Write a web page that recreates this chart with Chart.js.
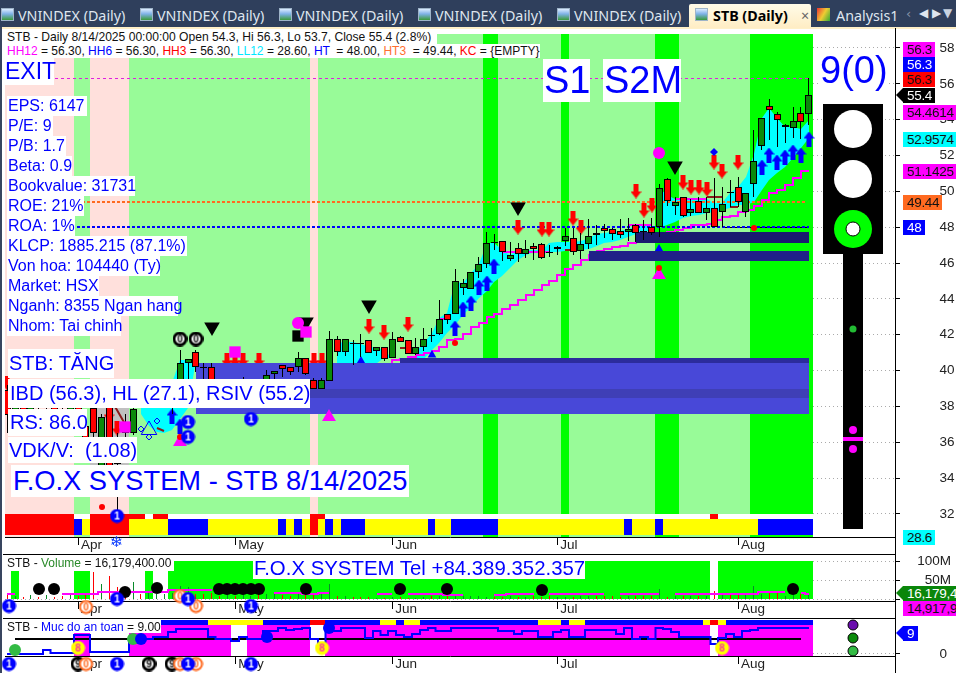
<!DOCTYPE html>
<html>
<head>
<meta charset="utf-8">
<title>STB (Daily)</title>
<script src="https://cdn.jsdelivr.net/npm/chart.js@4/dist/chart.umd.min.js"></script>
<style>
  html, body { margin: 0; padding: 0; background: #fff; }
  body { position: relative; width: 956px; height: 673px; overflow: hidden; font-family: "Liberation Sans", Arial, sans-serif; }
  canvas { position: absolute; left: 0; }
  .abs { position: absolute; white-space: pre; }
  .box { position: absolute; white-space: pre; background: #fff; color: #0000ff; }
  .rule { position: absolute; background: #000; }
  .tab { position: absolute; top: 7px; color: #dfe6ef; font: 14.3px "Noto Sans", sans-serif; line-height: 18px; white-space: pre; }
  .icon { position: absolute; top: 8px; width: 13px; height: 13px; background: linear-gradient(#dcecff 0, #7fb2e8 45%, #3a9a3a 100%); border: 1px solid #9fb4c8; box-sizing: border-box; }
  .tag { position: absolute; left: 903px; height: 15px; line-height: 15px; font-size: 13.5px; letter-spacing: -0.3px; padding-left: 4px; box-sizing: border-box; white-space: pre; overflow: hidden; }
  .tip { position: absolute; left: 896px; width: 0; height: 0; border-top: 7.5px solid transparent; border-bottom: 7.5px solid transparent; }
  #tabs { position: absolute; left: 0; top: 0; width: 956px; height: 27px; background: #2f3f5c; }
  #stripe { position: absolute; left: 0; top: 27px; width: 956px; height: 2px; background: #fff0c8; }
  #active { position: absolute; left: 689px; top: 4px; width: 122px; height: 24px; background: linear-gradient(#fffbe8, #ffedc4); border-radius: 2px 2px 0 0; }
</style>
</head>
<body>
<div id="tabs"></div><div id="stripe"></div><div id="active"></div>
<canvas id="priceChart" width="956" height="526" style="top:28px"></canvas>
<canvas id="volumeChart" width="956" height="64" style="top:554px"></canvas>
<canvas id="safetyChart" width="956" height="55" style="top:618px"></canvas>
<div id="overlay"></div>

<script>
// bar 0 = first visible day, bar 102 = 8/14/2025
const opens  = [38.9,37.5,38.2,37.6,38.3,37.9,38.2,37.7,37.2,38,36.9,37.9,34.7,38.5,36,36.9,36.5,39.1,38.45,38.6,38.9,39,39.47,40.4,41.02,40.18,40.18,39.3,38.7,39.2,38.6,39.1,39.3,39.47,39.79,40.29,40.18,40.18,40.68,39.47,38.95,39.43,41.75,41.06,41.53,41.53,41.69,41.11,41.3,40.68,41.86,41.69,40.95,41.3,41.96,42.06,43.14,43.18,44.63,44.57,45.52,45.95,47.17,47.25,46.2,46.82,46.49,46.97,47.04,46.63,46.76,47.25,47.38,46.67,47.04,47.65,47.97,47.88,47.8,47.71,48.14,47.78,47.99,47.99,50.67,49.18,49.67,48.77,49.44,48.77,49.05,48.83,49.96,50.26,48.85,50.41,52.55,54.74,54.34,53.57,53.55,54.35,54.3];
const highs  = [39.2,38.9,38.6,38.6,38.8,38.5,38.6,38,38.4,38.4,37.4,38.1,37.6,38.8,36.5,37.6,38.5,39.3,39.2,39.2,39.3,39.4,41.15,40.63,41.15,40.4,40.4,39.4,39.4,39.4,39.65,39.4,39.45,40.03,39.96,40.29,40.18,41.02,40.7,39.6,39.6,42.2,41.93,41.75,41.7,42.04,41.69,41.3,41.3,42.15,41.93,41.69,41.8,42.36,42.36,43.94,43.14,45.67,45.09,45.48,46.36,47.75,47.6,47.25,47.2,47.1,47.28,47.1,47.1,47,46.95,47.97,47.97,47.66,48.44,48.1,48.2,47.95,48.44,48.5,48.2,48.4,48.5,50.41,50.75,49.7,49.7,49.59,49.7,49.7,50.73,50.26,50.63,50.82,49.93,53.42,54.08,55.14,54.43,53.76,54.7,54.7,56.3];
const lows   = [36.5,37.2,37.2,37.2,37.6,37.5,37.3,37,36.9,36.5,35.5,36.3,34.5,34.5,32.2,36.2,36.4,38.6,38,38.2,38.5,37.6,38.6,39.47,39.94,39.47,39.3,38.4,38.5,38.4,38.4,38.6,38.7,39.2,39.4,39.66,39.75,39.94,39.75,38.95,38.95,39.43,40.8,40.8,40.3,40.78,41,40.8,40.54,40.68,41.58,40.95,40.87,41.1,41.6,41.99,42.6,43.18,44.22,44.57,45.15,45.7,46.7,46.13,46.1,46.08,46.3,46.17,46.25,46.35,46.45,46.95,46.45,46.2,46.8,47,47.4,47.28,47.38,47.25,47.2,47.3,47.55,47.43,49.18,48.68,48.55,48.6,48.77,48.4,47.99,48.03,49.15,49.15,48.59,49.67,52.3,52.87,52.5,52.72,53,52.9,53.7];
const closes = [37.5,38.2,37.6,38.3,37.9,38.2,37.7,37.2,38,36.9,35.8,36.5,37.43,34.7,34.8,36.5,37.84,38.8,39,39,39.2,39.3,40.4,40.63,40.18,40.12,39.47,38.7,39.2,38.6,39.1,39.3,38.9,39.73,39.96,40.07,39.94,40.68,39.79,38.95,39.47,41.75,41.06,41.75,41.47,41.47,41,41.3,40.67,41.75,41.58,40.95,41.3,41.75,41.9,42.86,42.8,44.98,44.87,45.48,45.95,47.14,47.11,46.6,46.43,46.49,46.76,46.76,46.3,46.57,46.9,47.53,46.6,47.04,47.53,47.59,47.8,47.6,47.56,47.92,47.66,47.72,47.66,50.17,49.44,49.42,48.64,49,48.77,49.05,47.99,49.28,49.9,49.39,49.93,51.68,54.08,54.56,53.96,53.68,53.95,53.85,55.4];
const volumes = [14,10,6,12,6,12,6,10,12,10,15,72,39,60,32,28,45,14,18,14,14,18,36,32,15,14,18,10,12,8,11,8,14,14,18,12,10,14,16,14,18,40,10,8,6,6,6,4,4,6,6,4,5,6,8,9,8,10,8,9,8,6,7,6,8,7,7,8,6,10,7,6,7,10,10,8,9,8,6,8,8,8,8,28,6,8,10,9,8,10,23,12,12,14,15,35,15,17,17,8,12,13,16.18];
const volumeAvg = [15,15,null,14,null,14,null,13,14,14,15,15,19,19,19,19,19,19,19,19,19,25,25,25,25,25,25,null,null,null,null,null,null,null,18,18,16,16,15,15,17,17,null,null,null,null,null,14,14,14,null,13,13,13,15,15,12,12,12,null,null,null,12,12,14,14,14,14,null,14,14,14,14,14,14,13,13,null,13,14,14,13,13,13,null,15,15,15,15,15,15,15,15,15,15,15,19,19,19,19,null,17,15];
const safety = [0.1,0.1,0.1,0.1,0.1,1.3,0.2,0.2,0.2,6.45,6.45,0.7,0.7,0.7,0.7,0.7,5.07,5.07,5.07,5.86,5.86,7.6,8.7,8.7,8.7,8.7,5.9,5.07,5.07,4.6,5.9,5.28,5.28,7.83,7.83,8.97,8.17,8.5,8.97,5.07,3.9,7.83,7.83,8.97,8.97,8.97,5.5,7.8,6.55,7.8,6.55,5.86,7,8.17,8.97,7.83,7.83,8.97,8.97,8.97,8.97,8.97,8.97,7.83,7.83,7,7.83,7.83,5.86,5.86,7.6,8.17,5.86,5.86,8.17,8.17,8.17,8.17,7,8.97,5.28,5.86,5.28,8.97,8.5,7.6,5.86,5.86,5.86,5.86,3.55,5.5,7,5.86,7.83,8.17,8.97,8.97,8.97,8.97,8.97,8.97,9];

// nen mau theo bar: [loai, so bar]
const bgRuns = [["pink",9],["light",2],["pink",5],["light",23],["pink",1],["light",21],["bright",2],["light",8],["bright",1],["light",11],["bright",3],["light",9],["bright",8]];
const ribbonLow = [["red",9],["blue",1],["yellow",1],["red",5],["yellow",5],["blue",5],["yellow",9],["blue",1],["yellow",1],["blue",1],["yellow",1],["red",1],["yellow",1],["blue",1],["yellow",1],["blue",3],["yellow",8],["blue",1],["yellow",2],["blue",6],["yellow",16],["blue",1],["yellow",3],["blue",1],["yellow",12],["blue",7]];
const ribbonHigh = [["red",9],["white",2],["red",7],["white",1],["red",2],["white",18],["red",2],["white",49],["red",1],["white",12]];
const volumeBg = [["white",1],["bright",1],["white",7],["bright",2],["white",7],["bright",1],["white",2],["bright",69],["white",1],["bright",12]];
const safetyBg = [["white",9],["magenta",2],["white",5],["magenta",13],["white",2],["magenta",8],["white",2],["magenta",49],["white",1],["magenta",12]];
const safetyRibbon = [["white",20],["blue",6],["yellow",7],["blue",6],["red",2],["blue",7],["yellow",2],["blue",1],["yellow",2],["blue",15],["yellow",3],["blue",1],["yellow",2],["blue",15],["yellow",1],["red",1],["yellow",1],["blue",11]];

// day ban cyan va duong nac thang
const cyanBars  = [17,18,19,20,21,22,23,24,null,42,43,44,45,46,47,48,49,null,52,53,54,55,56,57,58,59,60,61,62,63,64,65,66,67,68,69,70,71,72,73,74,75,76,77,78,79,80,81,82,null,83,84,85,86,87,88,89,90,91,92,93,94,95,96,97,98,99,100,101,102];
const cyanTop   = [38.6,39,39,39.2,39.3,40.6,40.6,40.6,null,41.52,41.61,41.61,41.48,41.34,41.24,41.15,40.7,null,41.06,41.52,42.08,42.92,43.2,44.96,44.87,45.47,45.95,47.14,47.14,46.73,46.45,46.73,46.73,46.73,46.73,47.1,47.19,47.2,47.2,47.25,47.4,47.6,47.7,47.75,47.8,47.9,48,48.1,48.2,null,50.17,49.8,49.6,49.6,49.6,49.6,49.6,49.33,49.33,49.9,50.26,50.82,52.1,54.07,54.63,54.07,53.6,53.6,53.5,54];
const cyanLow   = [37.6,36.9,36.55,36.5,36.7,37.3,37.9,40.6,null,40.41,40.41,40.41,40.41,40.41,40.41,40.68,40.7,null,40.55,40.63,41.15,41.52,42.08,42.54,43.1,43.57,44.03,44.46,44.96,45.28,45.7,46.17,46.45,46.64,46.64,46.6,46.63,46.65,46.65,46.7,46.8,46.95,47.1,47.2,47.3,47.45,47.6,47.7,47.9,null,47.93,48.12,48.3,48.5,48.6,48.68,48.77,48.86,48.96,49.05,49.24,49.24,49.42,50.07,50.63,51,51.38,51.84,52.4,52.96];
const stepBars  = [49,50,51,52,53,54,55,56,57,58,59,60,61,62,63,64,65,66,67,68,69,70,71,72,73,74,75,76,77,78,79,80,81,82,83,84,85,86,87,88,89,90,91,92,93,94,95,96,97,98,99,100,101,102];
const stepLine  = [40.44,40.59,40.62,40.78,40.87,40.96,41.09,41.3,41.71,41.74,42.04,42.41,42.67,42.97,43.16,43.46,43.68,43.94,44.22,44.5,44.78,45.02,45.33,45.65,45.89,46.17,46.45,46.67,46.78,46.9,46.97,47.1,47.25,47.35,47.5,47.6,47.75,47.84,47.95,48.12,48.12,48.2,48.4,48.58,48.65,48.86,48.96,49.2,49.5,49.88,50.1,50.35,50.72,51.14];
const upperBars = [55,56,null,63,64,65,66,67,68,69,null,79,80,81,82,null,85,86,87,88,89];
const upperLine = [42.9,42.9,null,46.64,46.64,46.64,46.64,46.64,46.64,46.64,null,48.12,48.12,48.12,48.12,null,49.6,49.6,49.6,49.6,49.6];
const brownBars = [13,14,15,null,19,20,null,50,51,52,null,71,72,null,89,90,91,null,92,93];
const brownLine = [38.5,37.8,37,null,36.78,36.65,null,41.24,41.24,41.24,null,46.73,46.73,null,49.7,49.7,49.7,null,49.14,49.14];

// vung ho tro: tu bar, den bar, gia
const zoneFrom = [24,50,24,74,80];
const zoneTo   = [102,102,102,102,102];
const zoneLow  = [37.58,40.42,38.47,46.11,47.12];
const zoneHigh = [40.42,40.7,38.97,46.67,47.73];

// muc gia
const levelExit = 56.3, levelHt3 = 49.41, levelHt = 48;

// dau hieu tren gia
const sellBars  = [0,13,14,28,29,30,32,39,40,46,48,51,65,68,69,72,73,80,81,82,86,87,88,89,90,91,93];
const sellPrice = [39.29,37.6,36.78,40.6,40.6,40.6,40.6,40.6,40.6,42.5,42.14,42.58,47.99,47.88,47.88,48.49,47.99,50.02,48.96,49.24,50.5,50.26,50.26,50.13,51.62,51.12,51.62];
const buyBars   = [21,22,57,58,59,60,61,62,96,97,98,99,100,101,102];
const buyPrice  = [37.46,36.9,42.4,43.42,43.75,44.68,44.87,45.86,51.38,52.03,51.66,51.94,52.18,52.03,52.9];
const peakBars  = [26,38,46,65,85];
const peakPrice = [42.43,42.7,43.66,49.13,51.43];
const baseBars  = [22,41,83];
const basePrice = [36,37.4,45.33];
const ringBars  = [37,83];
const ringPrice = [42.65,52.13];
const squareBars  = [15,29,38];
const squarePrice = [36.85,41.04,42.15];
const blackSqBars  = [37];
const blackSqPrice = [41.93];
const redDotBars  = [12,22,57,83,95];
const redDotPrice = [32.4,36.3,41.55,45.7,47.94];
const blueDotBars  = [90];
const blueDotPrice = [52.2];
const smallTriBars  = [45,54,83];
const smallTriPrice = [40.55,40.85,46.8];
const oneBars  = [14,23,23,31];
const onePrice = [31.9,37.1,36.3,37.3];
const zeroBars  = [22,24];
const zeroPrice = [41.76,41.76];

// den giao thong (dat ngoai vung bar)
const lightBar = 107.63;
const lightBody = [46.5,54.875];
const lightPole = [31.16,46.5];
const lightDash = [36.07,36.3];
const lightLamps = [53.48,50.69];
const lightGreen = [47.9];
const lightCenter = [47.9];

// volume + muc do an toan
const volDotBars = [4,6,15,19,27,28,29,30,31,32,38,50,56,68,100];
const volDotVal  = [26,26,20,30,27,26,26,26,27,28,27,27,27,25,27];
const volOneBars = [0.2,14,23,31];
const volOneVal  = [-17,2,1,-17];
const volZeroBars = [10,22,24];
const volZeroVal  = [-20,8,-17];
const safeBigBlueBars = [17,33,41];
const safeBigBlueVal  = [5,5.9,8.97];
const safeLimeBars = [1,16];
const safeLimeVal  = [1.4,5.3];
const safeEightBars = [9,40,91];
const safeEightVal  = [2.2,2.1,2.1];
const safeOneBars = [0.2,14,23,31];
const safeNineBars = [9,18,21];
const safeZeroBars = [10,22,24];
const safeBelow = -3.4;
const safeLevel = 5.3;
const safeLamps = [10,5.52,1.03];

const priceTicks = [32,34,36,38,40,42,44,46,48,50,52,54,56,58];
const volumeTicks = [0,50e6,100e6];
const volumeTickLabels = ["","50M","100M"];
const monthBars = [9,29,49,70,93];
const monthNames = ["Apr","May","Jun","Jul","Aug"];

const infoRows = ["EPS: 6147","P/E: 9","P/B: 1.7","Beta: 0.9","Bookvalue: 31731","ROE: 21%","ROA: 1%","KLCP: 1885.215 (87.1%)","Von hoa: 104440 (Ty)","Market: HSX","Nganh: 8355 Ngan hang","Nhom: Tai chinh"];

const COLORS = {
  pink: "#ffe0dc", light: "#98fb98", bright: "#00ff00", red: "#ff0000", blue: "#0000ff",
  yellow: "#ffff00", white: "#ffffff", magenta: "#ff00ff"
};
const LAST_BAR = 102;

Chart.defaults.font.family = '"Liberation Sans", Arial, sans-serif';
Chart.defaults.font.size = 13.5;
Chart.defaults.color = "#222";
Chart.defaults.animation = false;

const allBars = opens.map((_, i) => i);
const expandRuns = runs => runs.flatMap(([k, n]) => Array(n).fill(COLORS[k]));
const pairs = (xs, ys) => xs.map((x, k) => ({ x: x === null ? NaN : x, y: ys[k] }));

// icons de ve diem
function sprite(w, h, draw) {
  const c = document.createElement("canvas");
  c.width = w; c.height = h;
  draw(c.getContext("2d"), w, h);
  return c;
}
function arrow(color, up) {
  return sprite(11, 15, (g, w, h) => {
    if (!up) { g.translate(0, h); g.scale(1, -1); }
    g.fillStyle = color;
    g.beginPath();
    g.moveTo(5.5, 0); g.lineTo(11, 7); g.lineTo(8, 7); g.lineTo(8, 15);
    g.lineTo(3, 15); g.lineTo(3, 7); g.lineTo(0, 7);
    g.closePath(); g.fill();
  });
}
function badge(label, fill, ring, ink, ringWidth) {
  return sprite(15, 15, g => {
    g.beginPath(); g.arc(7.5, 7.5, 6, 0, Math.PI * 2);
    g.fillStyle = fill; g.fill();
    g.lineWidth = ringWidth || 2; g.strokeStyle = ring; g.stroke();
    g.fillStyle = ink;
    g.font = 'bold 10px "Liberation Sans"';
    g.textAlign = "center"; g.textBaseline = "middle";
    g.fillText(label, 7.5, 8);
  });
}
const redArrow = arrow("#ff0000", false);
const blueArrow = arrow("#0000ff", true);
const badgeOne = badge("1", "#0000ff", "#0000ff", "#ffffff");
const badgeZero = badge("0", "#ffffff", "#ff6a20", "#ff6a20");
const badgeBlackZero = badge("0", "#ffffff", "#000000", "#000000", 3);
const badgeNine = badge("9", "#ffffff", "#000000", "#000000", 3);
const badgeEight = badge("8", "#ffff00", "#ffff00", "#ff2fa0");

// helpers dataset
const bars = (data, color, thick, extra) => ({
  type: "bar", data, backgroundColor: color, barThickness: thick, grouped: false,
  borderWidth: 0, inflateAmount: 0, ...extra
});
const line = (data, color, width, extra) => ({
  type: "line", data, borderColor: color, borderWidth: width, pointRadius: 0,
  fill: false, tension: 0, spanGaps: false, ...extra
});
const marks = (xs, ys, style, radius, color, extra) => ({
  type: "line", showLine: false, data: pairs(xs, ys), pointStyle: style, pointRadius: radius,
  pointBackgroundColor: color, pointBorderColor: color, pointBorderWidth: 0, ...extra
});
const spriteMarks = (xs, ys, img, extra) => marks(xs, ys, img, 10, "#000", { clip: false, ...extra });
const flat = (from, to, y) => [{ x: from, y }, { x: to, y }];

// dat order theo thu tu ve: phan tu sau nam tren
const painted = list => list.map((d, i) => ({ ...d, order: list.length - i }));

function span(xs, low, high) { return xs.map(x => ({ x, y: [low, high] })); }

const snapPixels = {
  id: "snapPixels",
  beforeDatasetsDraw(chart) {
    chart.getSortedVisibleDatasetMetas().forEach(meta => {
      const ds = chart.data.datasets[meta.index];
      if (meta.type === "bar") {
        meta.data.forEach(b => {
          b.x = b.width % 2 ? Math.floor(b.x) + 0.5 : Math.round(b.x);
          b.y = Math.round(b.y);
          b.base = Math.round(b.base);
        });
      } else {
        const odd = (ds.borderWidth || 0) % 2 === 1;
        meta.data.forEach(p => {
          if (ds.showLine === false) { p.x = Math.round(p.x); p.y = Math.round(p.y); return; }
          p.y = odd ? Math.floor(p.y) + 0.5 : Math.round(p.y);
          p.x = Math.round(p.x);
        });
      }
    });
  }
};

function baseOptions(min, max, yTicks, yLabel, yTickOpts, rightGap) {
  const gap = rightGap || 0;
  return {
    responsive: false,
    animation: false,
    layout: { autoPadding: false, padding: { left: 5, top: 0, right: gap, bottom: 0 } },
    plugins: { legend: { display: false }, tooltip: { enabled: false } },
    events: [],
    scales: {
      x: {
        type: "linear", offset: false,
        min: (5 - 7.3) / 7.857, max: (895 - 7.3) / 7.857,
        // chieu cao co dinh, bo padding de vung ve dung pixel
        afterFit: s => { s.height = 17; s.paddingLeft = 0; s.paddingRight = 0; s.paddingTop = 0; s.paddingBottom = 0; },
        afterBuildTicks: s => { s.ticks = monthBars.map(value => ({ value })); },
        grid: { offset: false, drawOnChartArea: false, tickLength: 8, tickColor: "#000" },
        border: { color: "#000", width: 1 },
        ticks: {
          autoSkip: false, maxRotation: 0, align: "start", labelOffset: 3, padding: -8,
          callback: v => monthNames[monthBars.indexOf(v)]
        }
      },
      y: {
        type: "linear", position: "right", min, max,
        afterFit: s => { s.width = 61 - gap; s.paddingTop = 0; s.paddingBottom = 0; s.paddingLeft = 0; s.paddingRight = 0; },
        afterBuildTicks: s => { s.ticks = yTicks.map(value => ({ value })); },
        grid: { color: "#aaaaaa", tickColor: "#000", tickLength: 5, lineWidth: 1 },
        border: { color: "#000", width: 1, dash: [1, 3] },
        ticks: { autoSkip: false, callback: yLabel, ...yTickOpts }
      }
    }
  };
}

// --- gia ---
const priceMin = 30.71, priceMax = 59.116;
const bodyColor = allBars.map(i => {
  if (Math.abs(opens[i] - closes[i]) < 0.1) return "#000000";
  return closes[i] > opens[i] ? "#0a8a0a" : "#ff0000";
});
const bgData = span(allBars, priceMin, 58.78);
const greyBars = [11,12,13,14,15];

let priceSets = [
  bars(bgData, expandRuns(bgRuns), 8),
  bars(span(greyBars, 34.67, 38), "#c0c0c0", 8),
  line(pairs(cyanBars, cyanLow), "rgba(0,0,0,0)", 0)
];
const cyanIndex = priceSets.length - 1;
priceSets = priceSets.concat([
  line(pairs(cyanBars, cyanTop), "rgba(0,0,0,0)", 0, { fill: { target: cyanIndex }, backgroundColor: "#00ffff" }),
  line(pairs(upperBars, upperLine), "#ff00ff", 2),
  line(pairs(stepBars, stepLine), "#ff00ff", 2, { stepped: "after" }),
  line(flat(0, LAST_BAR, levelExit), "#e020e0", 1, { borderDash: [3, 3] }),
  line(flat(0, 101.5, levelHt3), "#ff6a20", 2, { borderDash: [3, 2] }),
  line(flat(91, LAST_BAR, levelHt), "#000000", 1),
  line(flat(0, LAST_BAR, levelHt), "#0000ff", 2, { borderDash: [3, 2] }),
  marks(sellBars, sellPrice, redArrow, 10, "#f00"),
  marks(buyBars, buyPrice, blueArrow, 10, "#00f"),
  marks(smallTriBars, smallTriPrice, "triangle", 5, "#0000ff")
]);

// cac vung xanh phu len mui ten
const zoneColors = ["#4848d8", "#2c2c9c", "#3f3fb6", "#202088", "#1a1a70"];
zoneFrom.forEach((from, k) => {
  const lowIdx = priceSets.length;
  priceSets.push(line(flat(from, zoneTo[k], zoneLow[k]), "rgba(0,0,0,0)", 0));
  priceSets.push(line(flat(from, zoneTo[k], zoneHigh[k]), "rgba(0,0,0,0)", 0, { fill: { target: lowIdx }, backgroundColor: zoneColors[k] }));
});

priceSets = priceSets.concat([
  line(pairs(brownBars, brownLine), "#8b1a1a", 2),
  bars(allBars.map(i => ({ x: i, y: [lows[i], highs[i]] })), "#000000", 1),
  bars(allBars.map(i => ({ x: i, y: [opens[i], closes[i]] })), bodyColor, 7, { borderWidth: 1, borderColor: "#000000", borderSkipped: false }),
  marks(peakBars, peakPrice, "triangle", 9, "#000000", { pointRotation: 180 }),
  marks(baseBars, basePrice, "triangle", 8, "#ff00ff"),
  marks(ringBars, ringPrice, "circle", 6, "#ff00ff"),
  marks(blackSqBars, blackSqPrice, "rect", 8, "#000000"),
  marks(squareBars, squarePrice, "rect", 8, "#ff00ff"),
  marks(redDotBars, redDotPrice, "circle", 3, "#ff0000"),
  marks(blueDotBars, blueDotPrice, "rectRot", 4, "#0000ff"),
  marks([18], [36.68], "triangle", 9, "rgba(0,0,0,0)", { pointBorderColor: "#0000ff", pointBorderWidth: 1 }),
  marks([17,18,19], [36.74,36.29,37.19], "rectRot", 3, "rgba(0,0,0,0)", { pointBorderColor: "#0000ff", pointBorderWidth: 1 }),
  marks(zeroBars, zeroPrice, badgeBlackZero, 10, "#000"),
  bars(span(allBars, 30.83, 32), "#ffffff", 8),
  bars(span(allBars, 31.72, 32), expandRuns(ribbonHigh), 8),
  bars(span(allBars, 30.83, 31.72), expandRuns(ribbonLow), 8),
  spriteMarks(oneBars, onePrice, badgeOne),
  bars([{ x: lightBar, y: lightBody }], "#000000", 60),
  bars([{ x: lightBar, y: lightPole }], "#000000", 20),
  marks([lightBar, lightBar], lightLamps, "circle", 19, "#ffffff"),
  marks([lightBar], lightGreen, "circle", 19, "#00ff00"),
  marks([lightBar], lightCenter, "circle", 7, "#ffffff", { pointBorderColor: "#000000", pointBorderWidth: 1 }),
  marks([lightBar], [42.32], "circle", 3.5, "#22bb33"),
  marks([lightBar, lightBar], [36.68, 35.62], "circle", 4, "#ff00ff"),
  bars([{ x: lightBar, y: lightDash }], "#ff00ff", 20)
]);

new Chart(document.getElementById("priceChart"), {
  type: "line",
  data: { datasets: painted(priceSets) },
  options: baseOptions(priceMin, priceMax, priceTicks, v => String(v), { padding: 39.5, crossAlign: "near" }),
  plugins: [snapPixels]
});

// --- volume ---
const volBarColor = allBars.map(i => closes[i] >= opens[i] ? "#0a8a2a" : "#ff0000");
new Chart(document.getElementById("volumeChart"), {
  type: "line",
  data: { datasets: painted([
    bars(span(allBars, 0, 100e6), expandRuns(volumeBg), 8),
    bars(allBars.map(i => ({ x: i, y: [0, volumes[i] * 1e6] })), volBarColor, 1),
    line(pairs(allBars, volumeAvg.map(v => v === null ? null : v * 1e6)), "#ff00ff", 2, { stepped: "middle" }),
    marks(volDotBars, volDotVal.map(v => v * 1e6), "circle", 6, "#000000"),
    spriteMarks(volZeroBars, volZeroVal.map(v => v * 1e6), badgeZero),
    spriteMarks(volOneBars, volOneVal.map(v => v * 1e6), badgeOne)
  ]) },
  options: baseOptions(-3.9e6, 118.2e6, volumeTicks, v => volumeTickLabels[volumeTicks.indexOf(v)], { padding: 16, crossAlign: "far" }, 5),
  plugins: [snapPixels]
});

// --- muc do an toan ---
new Chart(document.getElementById("safetyChart"), {
  type: "line",
  data: { datasets: painted([
    bars(span(allBars, -0.69, 10), expandRuns(safetyBg), 8),
    bars(span(allBars, 10, 11.72), expandRuns(safetyRibbon), 8),
    line(flat(1, 101, safeLevel), "#000000", 2),
    line(pairs(allBars, safety), "#0000ff", 2, { stepped: "middle" }),
    marks(safeLimeBars, safeLimeVal, "circle", 6, "#33bb44"),
    marks(safeBigBlueBars, safeBigBlueVal, "circle", 6, "#0000ff"),
    spriteMarks(safeEightBars, safeEightVal, badgeEight),
    spriteMarks(safeNineBars, safeNineBars.map(() => safeBelow), badgeNine),
    spriteMarks(safeZeroBars, safeZeroBars.map(() => safeBelow), badgeZero),
    spriteMarks(safeOneBars, safeOneBars.map(() => safeBelow), badgeOne),
    marks([lightBar], [safeLamps[0]], "circle", 5, "#6a0dad", { pointBorderColor: "#000", pointBorderWidth: 1 }),
    marks([lightBar], [safeLamps[1]], "circle", 5, "#0a8a0a", { pointBorderColor: "#000", pointBorderWidth: 1 }),
    marks([lightBar], [safeLamps[2]], "circle", 5, "#33bb44", { pointBorderColor: "#000", pointBorderWidth: 1 })
  ]) },
  options: baseOptions(-0.69, 12.41, [0], v => String(v), { padding: 39.5, crossAlign: "near" }),
  plugins: [snapPixels]
});

// --- chu va khung de len tren chart ---
const overlay = document.getElementById("overlay");
function add(cls, style, text) {
  const el = document.createElement("div");
  el.className = cls;
  el.style.cssText = style;
  if (text !== undefined) el.textContent = text;
  overlay.appendChild(el);
  return el;
}
function addBox(x, y, w, h, size, text, pad) {
  add("box", `left:${x}px;top:${y}px;width:${w}px;height:${h}px;line-height:${h}px;font-size:${size}px;padding-left:${pad || 1}px;box-sizing:border-box`, text);
}

// khung ke
add("rule", "left:895px;top:28px;width:1px;height:645px");
add("rule", "left:3px;top:554px;width:892px;height:1px");
add("rule", "left:3px;top:618px;width:892px;height:1px");
add("abs", "left:0;top:27px;width:2px;height:646px;background:#38455f");

// tab
[0,1,2,3,4].forEach(k => {
  add("icon", `left:${1 + 139 * k}px`);
  add("tab", `left:${18 + 139 * k}px`, "VNINDEX (Daily)");
});
add("icon", "left:695px");
add("tab", "left:713px;color:#000;font-weight:700", "STB (Daily)");
add("tab", "left:801px;color:#666", "×");
add("icon", "left:817px;background:linear-gradient(120deg,#e33 0,#ec3 50%,#3a3 100%);border:0");
add("tab", "left:836px", "Analysis1");
add("tab", "left:906px;top:6px;font:13px 'DejaVu Sans';color:#8894a8", "‹");
add("tab", "left:919px;top:6px;font:12px 'DejaVu Sans'", "◀");
add("tab", "left:932px;top:6px;font:12px 'DejaVu Sans'", "▶");
add("tab", "left:943px;top:6px;font:12px 'DejaVu Sans';color:#c8d2e0", "▼");

// tieu de
const head = add("box", "left:5px;top:30px;width:432px;height:14px;line-height:14px;font-size:12.1px;color:#111;padding-left:2px;box-sizing:border-box", "STB - Daily 8/14/2025 00:00:00 Open 54.3, Hi 56.3, Lo 53.7, Close 55.4 (2.8%)");
const sub = add("box", "left:5px;top:44px;width:535px;height:14px;line-height:14px;font-size:12px;color:#111;padding-left:2px;box-sizing:border-box");
const subParts = [["HH12","#ff00ff"],[" = 56.30, "],["HH6","#0000ff"],[" = 56.30, "],["HH3","#ff0000"],[" = 56.30, "],["LL12","#00e8ff"],[" = 28.60, "],["HT","#0000ff"],["  = 48.00, "],["HT3","#ff7030"],["  = 49.44, "],["KC","#ff0000"],[" = {EMPTY}"]];
subParts.forEach(([t, c]) => {
  const s = document.createElement("span");
  s.textContent = t;
  if (c) s.style.color = c;
  sub.appendChild(s);
});

addBox(4, 58, 50, 27, 23, "EXIT", 0);
const infoWidths = [80,46,59,65,128,77,68,180,153,92,171,114];
infoRows.forEach((row, k) => addBox(7, 96 + 20 * k, infoWidths[k], 20, 16, row));
addBox(8, 349, 106, 29, 20, "STB: TĂNG", 1);
addBox(8, 379, 302, 29, 20, "IBD (56.3), HL (27.1), RSIV (55.2)", 2);
addBox(8, 409, 79, 27, 20, "RS: 86.0", 2);
addBox(8, 437, 129, 26, 20, "VDK/V:  (1.08)", 1);
addBox(11, 465, 398, 32, 27.3, "F.O.X SYSTEM - STB 8/14/2025", 2);
addBox(543, 59, 47, 43, 38, "S1", 1);
addBox(603, 59, 78, 43, 38, "S2M", 1);
addBox(819, 50, 68, 40, 38, "9(0)", 0);
add("abs", "left:110px;top:533px;font:15px 'DejaVu Sans';color:#1040ff", "❄");

// nhan pane duoi
const volLabel = add("box", "left:5px;top:556px;width:169px;height:15px;line-height:15px;font-size:12px;color:#111;padding-left:2px;box-sizing:border-box");
[["STB - "],["Volume","#2a8a2a"],[" = 16,179,400.00"]].forEach(([t, c]) => {
  const s = document.createElement("span"); s.textContent = t; if (c) s.style.color = c; volLabel.appendChild(s);
});
addBox(253, 557, 332, 22, 20.4, "F.O.X SYSTEM Tel +84.389.352.357", 1);
const safeLabel = add("box", "left:5px;top:620px;width:156px;height:13px;line-height:15px;font-size:12px;color:#111;padding-left:2px;box-sizing:border-box");
[["STB - "],["Muc do an toan","#0000ff"],[" = 9.00"]].forEach(([t, c]) => {
  const s = document.createElement("span"); s.textContent = t; if (c) s.style.color = c; safeLabel.appendChild(s);
});

// nhan gia ben phai
const tagTexts = ["56.3","56.3","56.3","55.4","54.4614","52.9574","51.1425","49.44","48","28.6","16,179,400","14,917,980","9"];
const tagTops  = [42,57,72,88,105,132,164,195,220,530,586,601,626];
const tagWidth = [32,32,32,32,53,53,53,39,22,32,53,53,15];
const tagBack  = ["#ff00ff","#0000ff","#ff0000","#000000","#ff00ff","#00ffff","#ff00ff","#ff6a20","#0000ff","#00ffff","#0a860a","#ff00ff","#0000ff"];
const tagInk   = ["#111","#fff","#111","#fff","#111","#111","#111","#111","#fff","#111","#fff","#111","#fff"];
tagTexts.forEach((t, k) => {
  add("tag", `top:${tagTops[k]}px;width:${tagWidth[k]}px;background:${tagBack[k]};color:${tagInk[k]}`, t);
  if (t === "55.4" || t === "16,179,400" || t === "9") {
    add("tip", `top:${tagTops[k]}px;border-right:7px solid ${tagBack[k]}`);
  }
});
</script>
</body>
</html>
